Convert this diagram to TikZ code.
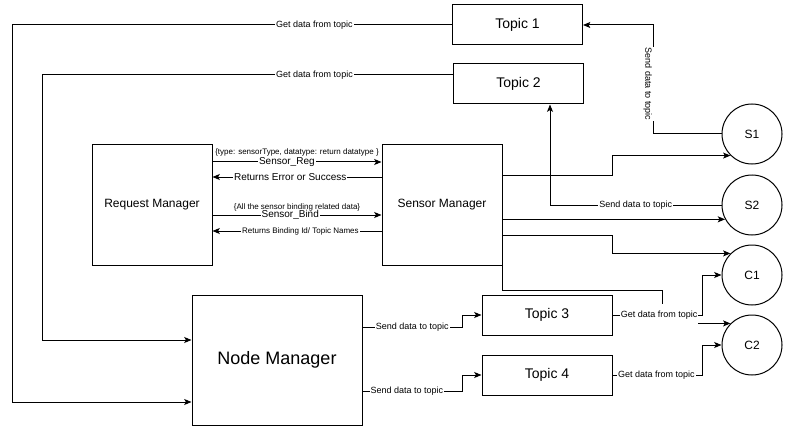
\documentclass[tikz,border=0pt]{standalone}
\usepackage{fontspec}
\setmainfont{Liberation Sans}
\usetikzlibrary{arrows.meta}

\begin{document}
\begin{tikzpicture}[x=0.75pt,y=0.75pt,yscale=-1,xscale=1,
  box/.style={draw, line width=0.75pt, inner sep=0.75pt, align=center},
  topicbox/.style={box, minimum width=97.5pt, minimum height=30pt, font=\fontsize{10.5}{12}\selectfont},
  mgrbox/.style={box, minimum width=90pt, minimum height=90pt, font=\fontsize{9}{11}\selectfont},
  nodebox/.style={box, minimum width=127.5pt, minimum height=97.5pt, font=\fontsize{13.5}{16}\selectfont},
  client/.style={draw, circle, line width=0.75pt, minimum size=45pt, inner sep=0pt, font=\fontsize{9}{11}\selectfont},
  link/.style={line width=0.75pt, -{Stealth[length=5.5pt,width=4.5pt,inset=1.3pt]}},
  lbl/.style={fill=white, inner sep=0.75pt, font=\fontsize{6.75}{8}\selectfont},
  msg/.style={fill=white, inner sep=0.75pt, font=\fontsize{7.5}{9}\selectfont},
  note/.style={inner sep=0.75pt, font=\fontsize{6}{7}\selectfont}
]
%uncomment if require: \path (0,431); %set diagram left start at 0, and has height of 431
\useasboundingbox (0,0) rectangle (788,431);

%Shape: Rectangle
\node[topicbox] (topic1) at (517.5,25) {Topic 1};
\node[topicbox] (topic2) at (518.5,84) {Topic 2};
\node[topicbox] (topic3) at (547,315) {Topic 3};
\node[topicbox] (topic4) at (547,375) {Topic 4};
%Shape: Rectangle
\node[mgrbox] (reqmgr) at (152,205) {Request Manager};
\node[mgrbox] (sensmgr) at (442,205) {Sensor Manager};
\node[nodebox] (nodemgr) at (277,360) {Node Manager};
%Shape: Circle
\node[client] (s1) at (752,134) {S1};
\node[client] (s2) at (752,205) {S2};
\node[client] (c1) at (752,275) {C1};
\node[client] (c2) at (752,345) {C2};

%Straight Lines
\draw[link] (topic1.west) -- node[lbl,pos=0.313]{Get data from topic} (12,25) |- (nodemgr.west |- 0,402);
\draw[link] (topic2.west |- 0,75) -- node[lbl,pos=0.337]{Get data from topic} (42,75) |- (nodemgr.west |- 0,340);

%Straight Lines
\draw[link] (reqmgr.east |- 0,162) -- node[msg,pos=0.44]{Sensor\_Reg} node[note,pos=0.5,yshift=7pt]{\{type: sensorType, datatype: return datatype \}} (sensmgr.west |- 0,162);
\draw[link] (sensmgr.west |- 0,177) -- node[msg,pos=0.54]{Returns Error or Success} (reqmgr.east |- 0,177);
\draw[link] (reqmgr.east |- 0,215) -- node[msg,pos=0.46]{Sensor\_Bind} node[note,pos=0.5,yshift=5.5pt]{\{All the sensor binding related data\}} (sensmgr.west |- 0,215);
\draw[link] (sensmgr.west |- 0,231) -- node[note,fill=white,pos=0.48]{Returns Binding Id/ Topic Names} (reqmgr.east |- 0,231);

%Straight Lines
\draw[link] (s1.west) -- (653,134) -- node[lbl,xshift=-4pt,rotate=-90,minimum height=13pt,pos=0.46]{Send data to topic} (653,25) -- (topic1.east);
\draw[link] (s2.west) -| node[lbl,pos=0.25]{Send data to topic} (550,0 |- topic2.south);

%Straight Lines
\draw[link] (sensmgr.east |- 0,175) -- (612,175) |- (s1.225);
\draw[link] (sensmgr.east |- s2.208) -- (s2.208);
\draw[link] (sensmgr.east |- 0,235) -- (612,235) |- (c1.135);
\draw[link] (sensmgr.south east) |- (662,290) |- (c2.135);

%Straight Lines
\draw[link] (topic3.east) -- node[lbl,pos=0.52,minimum height=16pt]{Get data from topic} (702,315) |- (c1.west);
\draw[link] (topic4.east) -- node[lbl,pos=0.49]{Get data from topic} (702,375) |- (c2.west);

%Straight Lines
\draw[link] (nodemgr.east |- 0,327) -- node[lbl,pos=0.5]{Send data to topic} (462,327) |- (topic3.west);
\draw[link] (nodemgr.east |- 0,391) -- node[lbl,pos=0.445]{Send data to topic} (462,391) |- (topic4.west);

\end{tikzpicture}
\end{document}
